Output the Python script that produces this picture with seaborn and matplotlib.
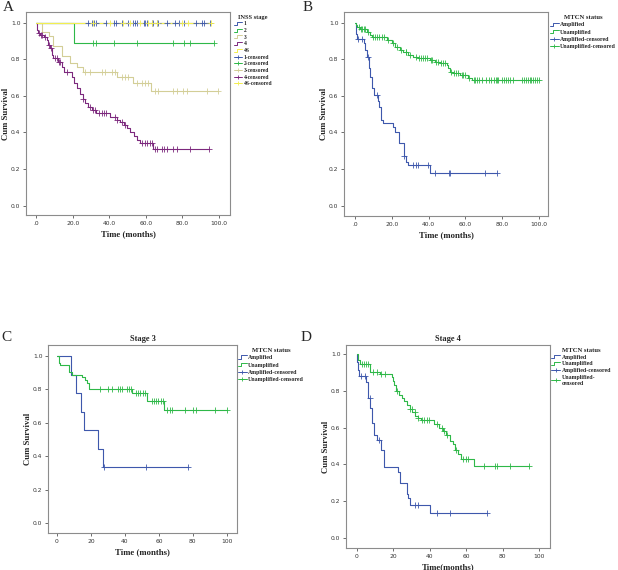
import numpy as np
import matplotlib.pyplot as plt
import seaborn as sns
from matplotlib.lines import Line2D
from matplotlib.legend_handler import HandlerBase

# ---- data (months, cumulative survival) ----
# Panel A: INSS stage
a_s1_times, a_s1_surv = [], []
a_s1_cens = [28.2, 30.4, 31.5, 32.8, 38.3, 42.8, 43.7, 47.0, 50.3, 53.0, 54.1, 55.2, 59.0, 59.7,
             60.5, 63.2, 64.1, 66.1, 66.8, 71.4, 76.0, 78.1, 81.0, 87.2, 90.9, 91.8, 95.0]
a_s2_times, a_s2_surv = [20.8], [0.889]
a_s2_cens = [31.0, 33.0, 42.8, 55.0, 74.9, 81.0, 84.2, 97.3]
a_s3_times = [3.0, 7.0, 9.0, 14.0, 18.5, 22.5, 25.5, 44.0, 53.0, 63.0]
a_s3_surv = [0.95, 0.925, 0.87, 0.82, 0.78, 0.755, 0.73, 0.705, 0.67, 0.625]
a_s3_cens = [26.8, 29.5, 35.9, 37.7, 41.4, 43.2, 46.8, 48.6, 50.4, 55.0, 57.8, 59.6, 61.4,
             65.0, 66.8, 75.0, 76.9, 80.5, 82.4, 93.3, 99.6]
a_s4_times = [0.4, 1.0, 2.2, 4.5, 5.8, 6.7, 7.7, 8.6, 9.5, 12.2, 14.0, 15.0, 19.5, 20.8, 22.5,
              24.0, 25.5, 26.8, 28.6, 30.4, 33.0, 40.5, 44.0, 46.0, 48.0, 49.5, 51.4, 53.5,
              55.0, 56.8, 64.0]
a_s4_surv = [0.96, 0.945, 0.933, 0.924, 0.905, 0.88, 0.86, 0.824, 0.806, 0.787, 0.76, 0.728,
             0.705, 0.67, 0.645, 0.61, 0.585, 0.56, 0.541, 0.523, 0.505, 0.485, 0.47, 0.455,
             0.44, 0.425, 0.40, 0.38, 0.36, 0.34, 0.31]
a_s4_cens = [1.5, 2.7, 3.5, 4.9, 7.3, 8.2, 10.5, 11.3, 12.5, 13.2, 17.0, 25.5, 29.5, 31.0, 32.0,
             34.5, 36.0, 37.0, 38.0, 43.0, 44.5, 47.0, 48.8, 57.8, 59.6, 60.9, 62.3, 63.2, 64.8,
             66.0, 69.0, 70.0, 71.5, 75.0, 77.0, 84.2, 94.5]
a_s4s_times, a_s4s_surv = [], []
a_s4s_cens = [31.0, 40.4, 47.5, 51.4, 56.8, 61.2, 63.4, 66.0, 79.8, 83.1, 95.6]
a_groups = ['1', '2', '3', '4', '4S']

# Panel B: MYCN status, all patients
b_amp_times = [0.7, 1.3, 4.7, 5.6, 6.3, 7.5, 8.4, 9.3, 10.2, 12.3, 13.3, 14.0, 15.0, 20.5, 21.8,
               24.0, 26.6, 27.8, 29.0, 40.8]
b_amp_surv = [0.94, 0.91, 0.89, 0.85, 0.81, 0.75, 0.705, 0.645, 0.605, 0.57, 0.54, 0.47, 0.45,
              0.43, 0.40, 0.34, 0.27, 0.24, 0.22, 0.18]
b_amp_cens = [1.6, 4.0, 7.1, 12.0, 26.8, 31.6, 33.1, 34.2, 39.8, 43.5, 50.9, 51.8, 70.9, 77.1]
b_una_times = [0.5, 1.2, 2.5, 6.3, 8.2, 9.1, 17.2, 19.9, 21.7, 24.5, 26.2, 29.0, 31.7, 34.4, 40.8,
               43.5, 46.2, 49.8, 50.7, 51.6, 53.5, 57.1, 61.6, 63.4]
b_una_surv = [0.985, 0.975, 0.965, 0.951, 0.933, 0.924, 0.906, 0.888, 0.869, 0.851, 0.842, 0.824,
              0.814, 0.805, 0.796, 0.787, 0.778, 0.769, 0.751, 0.732, 0.723, 0.714, 0.696, 0.685]
b_una_cens = [2, 3, 4, 5, 5.5, 7, 10, 11, 12, 13, 14.5, 16, 18, 20.5, 23, 25, 27.5, 28, 30, 33, 35,
              36, 37, 38, 39, 41.5, 42, 44, 45, 47, 48, 49, 52, 54, 55, 56, 58, 59, 60, 62, 64.5,
              65.5, 66.5, 67.5, 69, 71, 73, 74, 75.5, 76.5, 77.5, 78, 80, 81, 82, 83, 84.5, 86, 91,
              92, 93, 94, 95, 96, 97, 98, 99, 100]

# Panel C: stage 3
c_amp_times = [8.2, 11.2, 14.1, 16.1, 24.3, 27.3]
c_amp_surv = [0.889, 0.778, 0.667, 0.556, 0.444, 0.333]
c_amp_cens = [27.5, 52.2, 77.3]
c_una_times = [1.2, 1.8, 7.3, 8.6, 15.0, 16.4, 17.8, 19.0, 43.9, 53.1, 62.9]
c_una_surv = [0.96, 0.946, 0.906, 0.886, 0.876, 0.856, 0.836, 0.80, 0.776, 0.732, 0.677]
c_una_cens = [25.3, 30.2, 32.2, 36.1, 37.1, 38.0, 41.4, 42.5, 43.3, 46.5, 47.5, 48.8, 50.4, 51.8,
              55.7, 57.0, 58.2, 59.6, 61.0, 62.2, 64.9, 66.5, 68.0, 75.3, 80.2, 82.1, 92.9, 100.2]

# Panel D: stage 4
d_amp_times = [0.2, 0.7, 1.3, 5.0, 6.2, 7.4, 8.5, 9.3, 11.2, 13.0, 14.8, 22.3, 23.6, 27.3, 28.2,
               29.1, 40.3]
d_amp_surv = [0.958, 0.913, 0.88, 0.85, 0.759, 0.705, 0.623, 0.56, 0.533, 0.478, 0.388, 0.357,
              0.30, 0.242, 0.215, 0.178, 0.136]
d_amp_cens = [2.2, 4.4, 7.1, 12.3, 31.9, 33.7, 44.1, 51.1, 71.3]
d_una_times = [0.5, 1.5, 7.3, 12.5, 19.0, 19.8, 20.5, 21.5, 23.0, 24.5, 26.0, 27.5, 29.0, 30.5,
               32.0, 33.5, 35.0, 42.5, 45.0, 47.0, 49.0, 51.0, 52.5, 54.0, 55.5, 57.0, 64.0]
d_una_surv = [0.97, 0.945, 0.905, 0.89, 0.875, 0.855, 0.83, 0.80, 0.78, 0.76, 0.745, 0.725, 0.70,
              0.685, 0.665, 0.655, 0.64, 0.62, 0.60, 0.58, 0.56, 0.53, 0.51, 0.48, 0.455, 0.43, 0.39]
d_una_cens = [2.6, 3.8, 4.9, 6.2, 9.0, 10.8, 13.0, 15.4, 21.8, 29.1, 30.0, 31.9, 33.7, 35.5, 36.8,
              38.3, 39.7, 43.8, 46.5, 47.8, 49.3, 54.4, 58.4, 59.9, 61.2, 69.8, 75.8, 77.1, 84.0, 94.7]

mycn_groups = ['Amplified', 'Unamplified']

# SPSS default chart colours
BLUE, GREEN, BEIGE, PURPLE, YELLOW = '#3E58AC', '#2EB848', '#D3CE97', '#7C287D', '#F3EE50'

sns.set_style('white')
plt.rcParams['font.family'] = ['Liberation Serif', 'DejaVu Serif']


class StepHandler(HandlerBase):
    def create_artists(self, legend, orig_handle, xdescent, ydescent, width, height, fontsize, trans):
        x0, y0 = -xdescent, -ydescent
        xs = [x0, x0 + 0.35 * width, x0 + 0.35 * width, x0 + width]
        ys = [y0 + 0.1 * height, y0 + 0.1 * height, y0 + 0.9 * height, y0 + 0.9 * height]
        return [Line2D(xs, ys, color=orig_handle.get_color(), lw=0.7, transform=trans)]


def km_line(ax, times, surv, end, color):
    t = np.r_[0.0, times, end]
    s = np.r_[1.0, surv, surv[-1] if len(surv) else 1.0]
    sns.lineplot(x=t, y=s, drawstyle='steps-post', color=color, lw=0.8, ax=ax,
                 estimator=None, sort=False)
    return t, s


def km_cens(ax, t, s, cens, color):
    idx = np.searchsorted(t, cens, side='right') - 1
    idx = np.clip(idx, 0, len(s) - 1)
    sns.scatterplot(x=cens, y=s[idx], marker='+', color=color, s=14, linewidth=0.6, ax=ax,
                    zorder=3)


def style_ax(ax, xlim, ylim, short_ticks, xlabel):
    ax.set_xlim(*xlim)
    ax.set_ylim(*ylim)
    ax.set_xticks([0, 20, 40, 60, 80, 100])
    if short_ticks:
        ax.set_xticklabels(['0', '20', '40', '60', '80', '100'])
    else:
        ax.set_xticklabels(['.0', '20.0', '40.0', '60.0', '80.0', '100.0'])
    ax.set_yticks([0, 0.2, 0.4, 0.6, 0.8, 1.0])
    ax.set_yticklabels(['0.0', '0.2', '0.4', '0.6', '0.8', '1.0'])
    ax.tick_params(bottom=True, left=True, length=2.5, width=0.6, color='#555555',
                   labelsize=4.3, labelcolor='#333333', pad=1.5)
    for lbl in ax.get_xticklabels() + ax.get_yticklabels():
        lbl.set_fontfamily('DejaVu Sans')
    for sp in ax.spines.values():
        sp.set_color('#8c8c8c')
        sp.set_linewidth(0.8)
    ax.set_xlabel(xlabel, fontsize=6.3, fontweight='bold', labelpad=3)
    ax.set_ylabel('Cum Survival', fontsize=6.3, fontweight='bold', labelpad=1)


def add_legend(ax, colors, groups, title, anchor, fs=4.2, spacing=0.35, labels_cens=None):
    line_h = [Line2D([], [], color=c, lw=0.7) for c in colors]
    cens_h = [Line2D([], [], color=c, lw=0.7, marker='+', markersize=3.5, markeredgewidth=0.6)
              for c in colors]
    labels = list(groups) + (labels_cens or [g + '-censored' for g in groups])
    hm = {h: StepHandler() for h in line_h}
    ax.legend(line_h + cens_h, labels, handler_map=hm, loc='upper left', bbox_to_anchor=anchor,
              frameon=False, title=title, prop={'weight': 'bold', 'size': fs},
              title_fontproperties={'weight': 'bold', 'size': fs + 0.6},
              handlelength=1.5, handletextpad=0.3, labelspacing=spacing, borderaxespad=0,
              borderpad=0.3)


W, H = 618, 570
fig = plt.figure(figsize=(W / 100, H / 100), dpi=100)


def px_axes(l, t, r, b):
    return fig.add_axes([l / W, 1 - b / H, (r - l) / W, (b - t) / H])


# ---- Panel A ----
axA = px_axes(26, 12, 230, 215)
colsA = [BLUE, GREEN, BEIGE, PURPLE, YELLOW]
dataA = [(a_s1_times, a_s1_surv, a_s1_cens, 95.0), (a_s2_times, a_s2_surv, a_s2_cens, 97.3),
         (a_s3_times, a_s3_surv, a_s3_cens, 99.6), (a_s4_times, a_s4_surv, a_s4_cens, 94.5),
         (a_s4s_times, a_s4s_surv, a_s4s_cens, 95.6)]
curves = [km_line(axA, tt, ss, end, c) for (tt, ss, cc, end), c in zip(dataA, colsA)]
for (t, s), (tt, ss, cc, end), c in zip(curves, dataA, colsA):
    km_cens(axA, t, s, cc, c)
style_ax(axA, (-5.5, 106), (-0.051, 1.058), False, 'Time (months)')
add_legend(axA, colsA, a_groups, 'INSS stage', (1.01, 0.995), fs=4.0, spacing=0.3)

# ---- Panel B ----
axB = px_axes(344, 12, 548, 216)
dataB = [(b_amp_times, b_amp_surv, b_amp_cens, 77.1), (b_una_times, b_una_surv, b_una_cens, 100.0)]
curves = [km_line(axB, tt, ss, end, c) for (tt, ss, cc, end), c in zip(dataB, [BLUE, GREEN])]
for (t, s), (tt, ss, cc, end), c in zip(curves, dataB, [BLUE, GREEN]):
    km_cens(axB, t, s, cc, c)
style_ax(axB, (-6, 105), (-0.056, 1.058), False, 'Time (months)')
add_legend(axB, [BLUE, GREEN], mycn_groups, 'MTCN status', (1.0, 0.995), spacing=0.4)

# ---- Panel C ----
axC = px_axes(48, 345, 237, 533)
dataC = [(c_amp_times, c_amp_surv, c_amp_cens, 77.3), (c_una_times, c_una_surv, c_una_cens, 100.2)]
curves = [km_line(axC, tt, ss, end, c) for (tt, ss, cc, end), c in zip(dataC, [BLUE, GREEN])]
for (t, s), (tt, ss, cc, end), c in zip(curves, dataC, [BLUE, GREEN]):
    km_cens(axC, t, s, cc, c)
style_ax(axC, (-5.3, 106), (-0.06, 1.066), True, 'Time (months)')
axC.set_title('Stage 3', fontsize=6, fontweight='bold', pad=3)
add_legend(axC, [BLUE, GREEN], mycn_groups, 'MTCN status', (0.995, 0.995), spacing=0.4)

# ---- Panel D ----
axD = px_axes(346, 345, 550, 548)
dataD = [(d_amp_times, d_amp_surv, d_amp_cens, 71.3), (d_una_times, d_una_surv, d_una_cens, 94.7)]
curves = [km_line(axD, tt, ss, end, c) for (tt, ss, cc, end), c in zip(dataD, [BLUE, GREEN])]
for (t, s), (tt, ss, cc, end), c in zip(curves, dataD, [BLUE, GREEN]):
    km_cens(axD, t, s, cc, c)
style_ax(axD, (-6, 106), (-0.054, 1.049), True, 'Time(months)')
axD.set_title('Stage 4', fontsize=6, fontweight='bold', pad=3)
add_legend(axD, [BLUE, GREEN], mycn_groups, 'MTCN status', (0.998, 0.995), spacing=0.3,
           labels_cens=['Amplified-censored', 'Unamplified-\ncensored'])

# panel letters
for x, y, letter in [(3, 1, 'A'), (303, 1, 'B'), (1, 331, 'C'), (301, 331, 'D')]:
    fig.text(x / W, 1 - y / H, letter, fontsize=11, va='top', ha='left')

fig.savefig('out.png', dpi=100)
